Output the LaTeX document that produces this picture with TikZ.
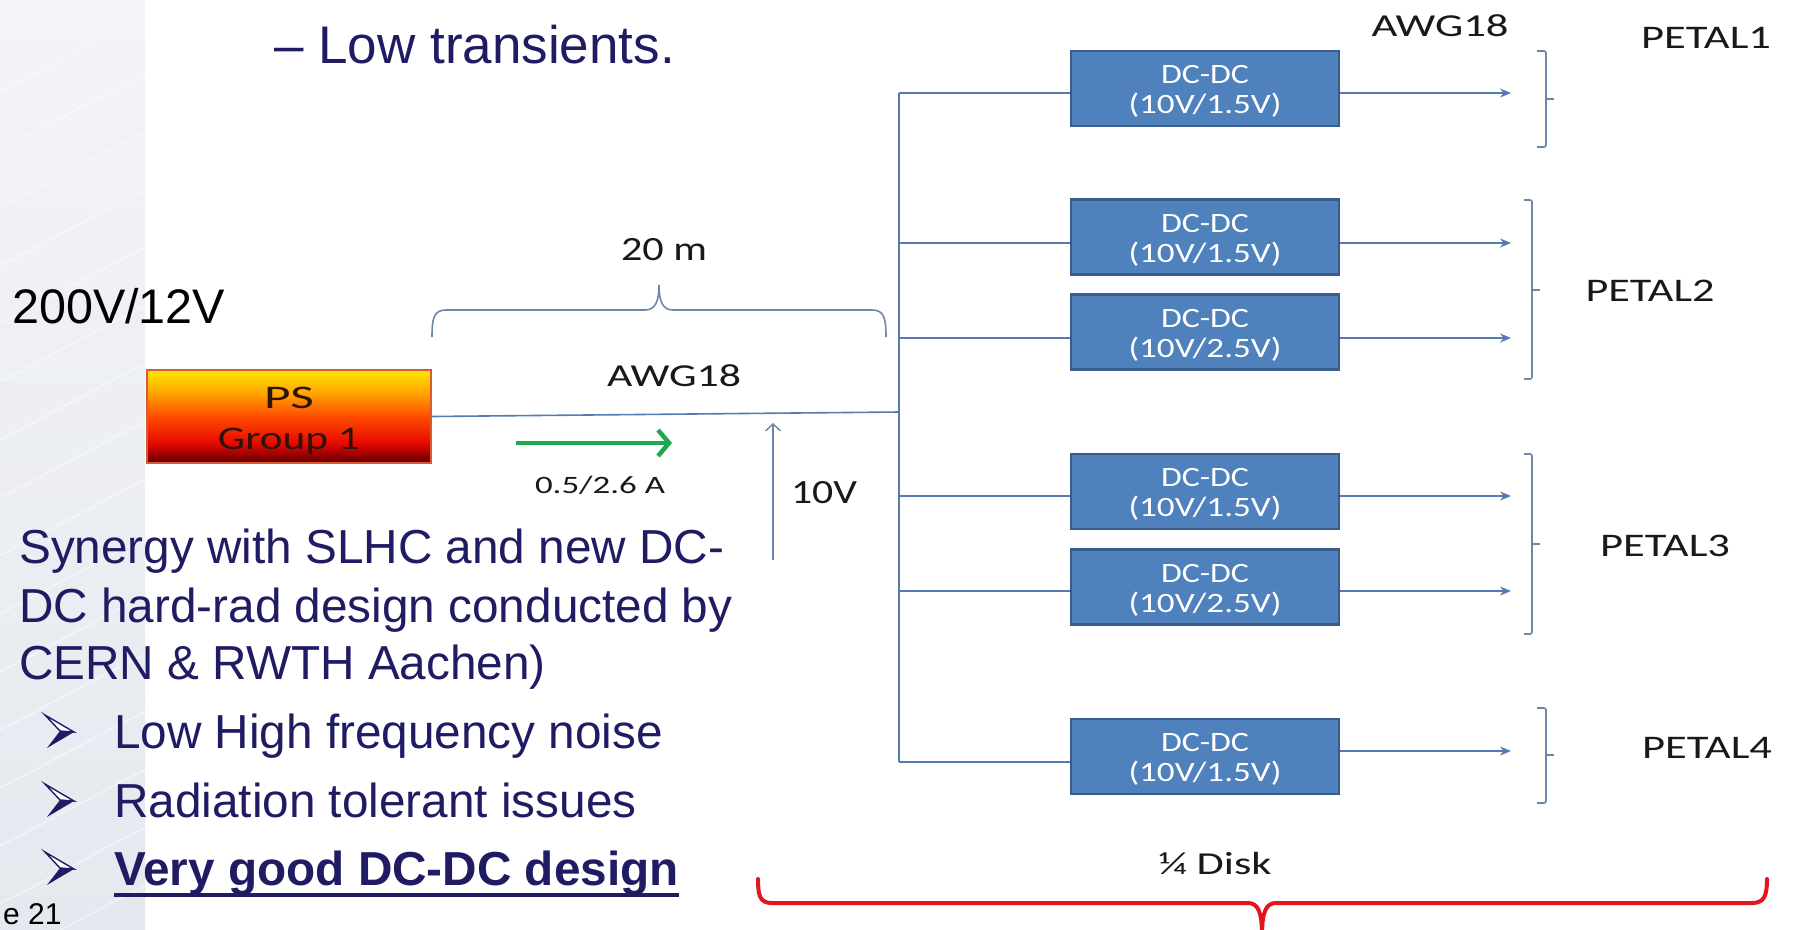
\documentclass[tikz,border=0pt]{standalone}
\usepackage{fontspec}
\setmainfont{Liberation Sans}
\newfontfamily\calib{Carlito}
\usepackage{graphicx}
\usetikzlibrary{arrows.meta}

\definecolor{navy}{RGB}{32,28,100}
\definecolor{wire}{RGB}{84,124,178}
\definecolor{bracecol}{RGB}{110,135,168}
\definecolor{boxfill}{RGB}{79,129,189}
\definecolor{boxline}{RGB}{56,93,138}
\definecolor{arrgreen}{RGB}{30,168,80}
\definecolor{redbr}{RGB}{226,22,30}
\definecolor{lbl}{RGB}{25,25,25}
\definecolor{pstext}{RGB}{45,20,10}
\definecolor{psborder}{RGB}{220,90,50}
\definecolor{panelTop}{RGB}{243,244,247}
\definecolor{panelBot}{RGB}{229,233,239}
\definecolor{psA}{RGB}{90,0,0}
\definecolor{psB}{RGB}{160,0,0}
\definecolor{psC}{RGB}{232,10,0}
\definecolor{psD}{RGB}{255,75,0}
\definecolor{psE}{RGB}{255,160,0}
\definecolor{psF}{RGB}{255,232,0}

\pgfdeclareverticalshading{psgrad}{100bp}{color(0bp)=(psA); color(25bp)=(psA); color(30bp)=(psB); color(36bp)=(psC); color(50bp)=(psD); color(62bp)=(psE); color(75bp)=(psF); color(100bp)=(psF)}

\newcommand\fitw[2]{\resizebox{#1pt}{\height}{#2}}

\tikzset{
  dcbox/.style={draw=boxline, line width=2.5pt, fill=boxfill, minimum width=268pt,
    minimum height=75pt, inner sep=0pt, text=white, align=center,
    font=\calib\fontsize{28}{30}\selectfont},
  psbox/.style={draw=psborder, line width=1.5pt, shading=psgrad, minimum width=284pt,
    minimum height=93pt, inner sep=0pt, text=pstext, align=center,
    font=\calib\fontsize{33}{41}\selectfont},
  wireline/.style={draw=wire, line width=1.6pt},
  outarrow/.style={wireline, -{Stealth[length=11pt,width=9pt]}},
  lab/.style={text=lbl, inner sep=0pt, anchor=base},
  slide/.style={text=navy, inner sep=0pt, anchor=base west, font=\fontsize{47.7}{57}\selectfont},
  bracestyle/.style={draw=bracecol, line width=1.6pt},
}

\begin{document}
\begin{tikzpicture}[x=1pt,y=-1pt]
\useasboundingbox (0,0) rectangle (1798,929);
\fill[white] (0,0) rectangle (1798,929);

% left decorative panel
\shade[top color=panelTop, bottom color=panelBot] (0,0) rectangle (145,929);
\begin{scope}
  \clip (0,0) rectangle (145,929);
  \foreach \k in {0,...,16} {
    \draw[white, line width=1.6pt, opacity=0.45]
      (-20,{100+58*\k}) .. controls (40,{75+58*\k}) and (100,{35+58*\k}) .. (170,{5+58*\k});
  }
\end{scope}

% slide text
\node[slide, font=\fontsize{53}{60}\selectfont] (lowtr) at (274,63) {– Low transients.};
\node[slide, text=black, font=\fontsize{48.5}{58}\selectfont] (volt) at (12,323) {200V/12V};
\node[slide] (syn1) at (19,563) {Synergy with SLHC and new DC-};
\node[slide] (syn2) at (19,622) {DC hard-rad design conducted by};
\node[slide] (syn3) at (19,679) {CERN \& RWTH Aachen)};
\node[slide] (bl1) at (114,748) {Low High frequency noise};
\node[slide] (bl2) at (114,817) {Radiation tolerant issues};
\node[slide, font=\bfseries\fontsize{47.7}{57}\selectfont] (bl3) at (114,885) {Very good DC-DC design};
\draw[navy, line width=4pt] ([yshift=-10pt]bl3.base west) -- ([yshift=-10pt]bl3.base east);
\node[slide, text=black, font=\fontsize{30}{34}\selectfont] (pg) at (3,924) {e 21};

% arrow bullets
\foreach \b in {748,817,885} {
  \filldraw[draw=navy, fill=white, line width=1.4pt, line join=miter]
    (45,{\b-33}) -- (74,{\b-16}) -- (60,{\b-17}) -- cycle;
  \fill[navy] (60,{\b-17}) -- (74,{\b-16}) -- (47,{\b}) -- cycle;
}

% power supply
\node[psbox] (ps) at (289,416.5) {\fitw{50}{PS}\rule{0pt}{30pt}\\\fitw{142}{Group 1}};

% 20 m brace
\draw[bracestyle] (432,337) .. controls (432,318) and (434,310) .. (446,310) -- (645,310)
  .. controls (655,310) and (659,302) .. (659,285);
\draw[bracestyle] (659,285) .. controls (659,302) and (663,310) .. (673,310) -- (872,310)
  .. controls (884,310) and (886,318) .. (886,337);
\node[lab, font=\calib\fontsize{34}{38}\selectfont] (twenty) at (664,260) {\fitw{86}{20 m}};
\node[lab, font=\calib\fontsize{32}{36}\selectfont] (awgmid) at (674,386) {\fitw{134}{AWG18}};

% main cable and bus
\coordinate (jm) at (899,412);
\draw[wireline] (ps.east) -- (jm);
\coordinate (j1) at (899,93);
\coordinate (j2) at (899,243);
\coordinate (j3) at (899,338);
\coordinate (j4) at (899,496);
\coordinate (j5) at (899,591);
\coordinate (j6) at (899,762);
\draw[wireline] (j1) -- (j6);

% current arrow and voltage arrow
\coordinate (g1) at (516,443);
\coordinate (g2) at (672,443);
\draw[arrgreen, line width=4.5pt, -{Straight Barb[length=11pt,width=26pt]}] (g1) -- (g2);
\node[lab, font=\calib\fontsize{25}{28}\selectfont] (amp) at (600,493) {\fitw{130}{0.5/2.6 A}};
\coordinate (v1) at (773,560);
\coordinate (v2) at (773,423);
\draw[draw=bracecol, line width=1.4pt, -{Straight Barb[length=7pt,width=15pt]}] (v1) -- (v2);
\node[lab, font=\calib\fontsize{34}{38}\selectfont] (tenv) at (824,503) {\fitw{66}{10V}};

% DC-DC converters
\node[dcbox] (b1) at (1205,88.5) {\fitw{88}{DC-DC}\rule{0pt}{24pt}\\\fitw{153}{(10V/1.5V)}};
\node[dcbox] (b2) at (1205,237) {\fitw{88}{DC-DC}\rule{0pt}{24pt}\\\fitw{153}{(10V/1.5V)}};
\node[dcbox] (b3) at (1205,332) {\fitw{88}{DC-DC}\rule{0pt}{24pt}\\\fitw{153}{(10V/2.5V)}};
\node[dcbox] (b4) at (1205,491.5) {\fitw{88}{DC-DC}\rule{0pt}{24pt}\\\fitw{153}{(10V/1.5V)}};
\node[dcbox] (b5) at (1205,587) {\fitw{88}{DC-DC}\rule{0pt}{24pt}\\\fitw{153}{(10V/2.5V)}};
\node[dcbox] (b6) at (1205,756.5) {\fitw{88}{DC-DC}\rule{0pt}{24pt}\\\fitw{153}{(10V/1.5V)}};

\foreach \i in {1,...,6} { \draw[wireline] (j\i) -- (j\i -| b\i.west); }

\coordinate (t1) at (1511,93);
\coordinate (t2) at (1511,243);
\coordinate (t3) at (1511,338);
\coordinate (t4) at (1511,496);
\coordinate (t5) at (1511,591);
\coordinate (t6) at (1511,751);
\foreach \i in {1,...,6} { \draw[outarrow] (t\i -| b\i.east) -- (t\i); }

% petal braces
\draw[bracestyle, rounded corners=2pt] (1537,51) -- (1546,51) -- (1546,147) -- (1537,147);
\draw[bracestyle] (1546,99) -- (1554,99);
\draw[bracestyle, rounded corners=2pt] (1524,200) -- (1532,200) -- (1532,379) -- (1524,379);
\draw[bracestyle] (1532,290) -- (1540,290);
\draw[bracestyle, rounded corners=2pt] (1524,454) -- (1532,454) -- (1532,634) -- (1524,634);
\draw[bracestyle] (1532,544) -- (1540,544);
\draw[bracestyle, rounded corners=2pt] (1537,708) -- (1546,708) -- (1546,803) -- (1537,803);
\draw[bracestyle] (1546,755) -- (1554,755);

% labels on the right
\node[lab, font=\calib\fontsize{32}{36}\selectfont] (awgtop) at (1440,36) {\fitw{137}{AWG18}};
\node[lab, font=\calib\fontsize{33}{36}\selectfont] (p1) at (1706,48) {\fitw{130}{PETAL1}};
\node[lab, font=\calib\fontsize{33}{36}\selectfont] (p2) at (1650,301) {\fitw{129}{PETAL2}};
\node[lab, font=\calib\fontsize{33}{36}\selectfont] (p3) at (1665,556) {\fitw{130}{PETAL3}};
\node[lab, font=\calib\fontsize{33}{36}\selectfont] (p4) at (1707,758) {\fitw{130}{PETAL4}};
\node[lab, font=\calib\fontsize{32}{36}\selectfont] (disk) at (1215,874) {\fitw{113}{¼ Disk}};

% red quarter-disk brace
\draw[redbr, line width=4pt, line cap=round] (758,879) .. controls (758,896) and (760,903) .. (772,903)
  -- (1248,903) .. controls (1258,903) and (1262,912) .. (1262,935);
\draw[redbr, line width=4pt, line cap=round] (1262,935) .. controls (1262,912) and (1266,903) .. (1276,903)
  -- (1752,903) .. controls (1764,903) and (1767,896) .. (1767,879);
\end{tikzpicture}
\end{document}
